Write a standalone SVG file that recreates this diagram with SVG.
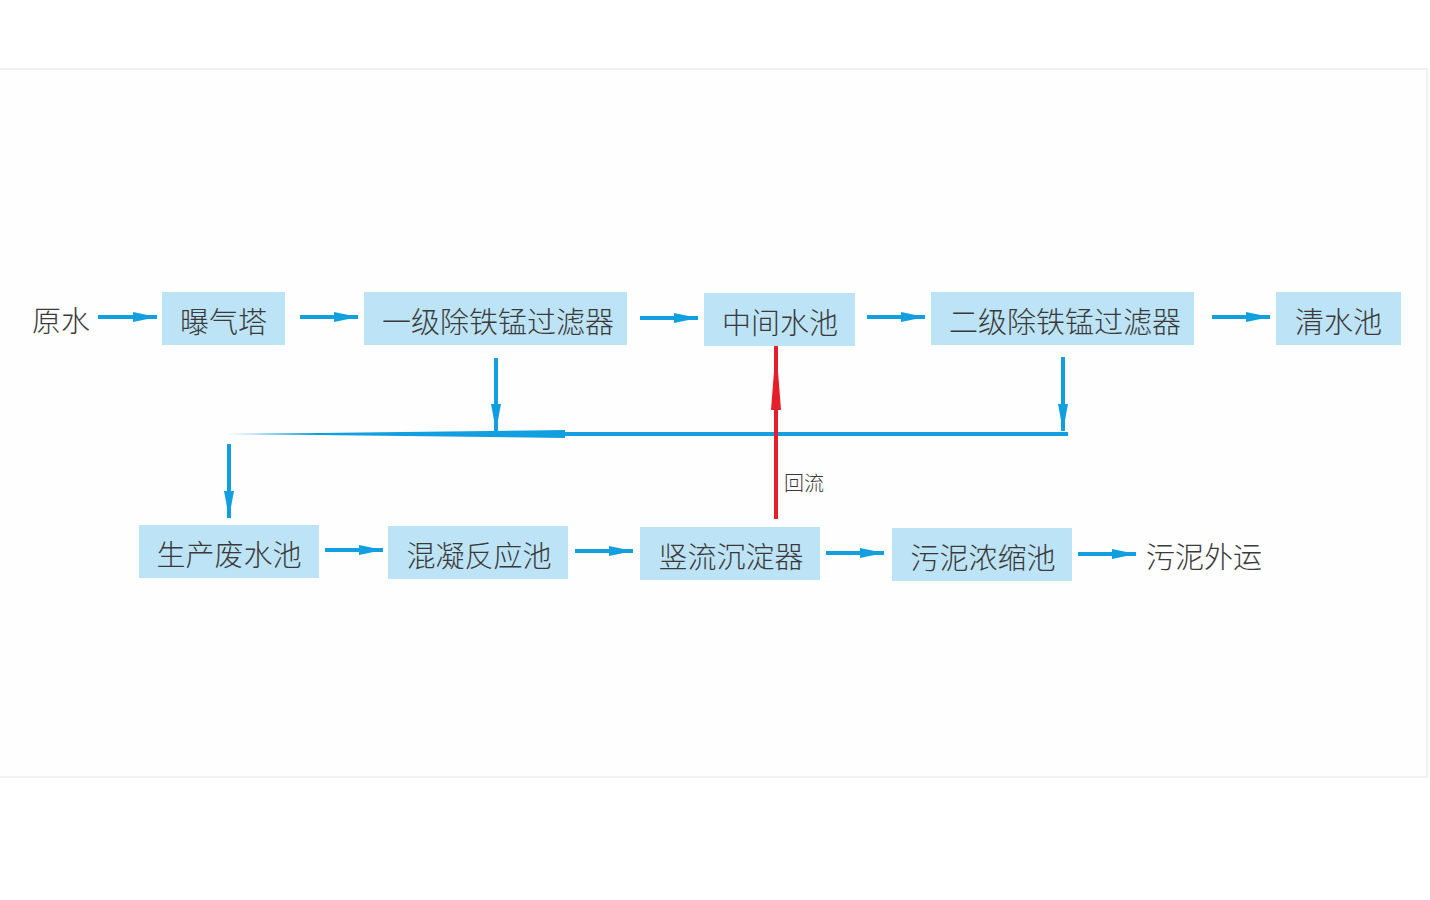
<svg xmlns="http://www.w3.org/2000/svg" width="1430" height="900" viewBox="0 0 1430 900">
<style>
.box{fill:#bde3f6}
.t{font-family:"Noto Sans CJK SC","Noto Sans",sans-serif;font-size:29px;font-weight:300;fill:#3a3a3a;text-anchor:middle;dominant-baseline:central}
.s{font-family:"Noto Sans CJK SC","Noto Sans",sans-serif;font-size:20px;font-weight:300;fill:#3a3a3a}
.ln{stroke:#129fe0;stroke-width:4;fill:none}
.red{stroke:#e41e2b;stroke-width:4;fill:none}
</style>
<defs>
<marker id="ah" markerUnits="userSpaceOnUse" markerWidth="26" markerHeight="12" refX="24" refY="6" orient="auto">
<polygon points="0,1 24,6 0,11" fill="#129fe0"/>
</marker>
<marker id="av" markerUnits="userSpaceOnUse" markerWidth="28" markerHeight="12" refX="27" refY="6" orient="auto">
<polygon points="0,1 27,6 0,11" fill="#129fe0"/>
</marker>
<marker id="ar" markerUnits="userSpaceOnUse" markerWidth="66" markerHeight="12" refX="64" refY="6" orient="auto">
<polygon points="0,1 64,6 0,11" fill="#e41e2b"/>
</marker>
</defs>
<rect x="0" y="0" width="1430" height="900" fill="#fff"/>
<rect x="-2" y="69" width="1429" height="708" fill="#fefefe" stroke="#ececec" stroke-width="1.5"/>

<g id="n-yuanshui"><text class="t" x="61" y="319">原水</text></g>
<g id="n-puqita"><rect class="box" x="162" y="292" width="123" height="53"/><text class="t" x="223.5" y="320">曝气塔</text></g>
<g id="n-yiji"><rect class="box" x="364" y="292" width="263" height="53"/><text class="t" x="498" y="320">一级除铁锰过滤器</text></g>
<g id="n-zhongjian"><rect class="box" x="704" y="293" width="151" height="53"/><text class="t" x="780" y="321">中间水池</text></g>
<g id="n-erji"><rect class="box" x="931" y="292" width="263" height="53"/><text class="t" x="1065" y="320">二级除铁锰过滤器</text></g>
<g id="n-qingshui"><rect class="box" x="1276" y="292" width="125" height="53"/><text class="t" x="1338.5" y="320">清水池</text></g>
<g id="n-shengchan"><rect class="box" x="139" y="525" width="180" height="53"/><text class="t" x="229" y="553">生产废水池</text></g>
<g id="n-hunning"><rect class="box" x="388" y="526" width="180" height="53"/><text class="t" x="479" y="554">混凝反应池</text></g>
<g id="n-shuliu"><rect class="box" x="640" y="527" width="180" height="53"/><text class="t" x="731" y="555">竖流沉淀器</text></g>
<g id="n-wuni"><rect class="box" x="892" y="528" width="180" height="53"/><text class="t" x="983" y="556">污泥浓缩池</text></g>
<g id="n-waiyun"><text class="t" x="1204" y="555">污泥外运</text></g>

<g id="connectors">
<line class="ln" x1="98" y1="317" x2="157" y2="317" marker-end="url(#ah)"/>
<line class="ln" x1="300" y1="317" x2="358" y2="317" marker-end="url(#ah)"/>
<line class="ln" x1="640" y1="318" x2="698" y2="318" marker-end="url(#ah)"/>
<line class="ln" x1="867" y1="317" x2="925" y2="317" marker-end="url(#ah)"/>
<line class="ln" x1="1212" y1="317" x2="1270" y2="317" marker-end="url(#ah)"/>
<line class="ln" x1="496" y1="358" x2="496" y2="431" marker-end="url(#av)"/>
<line class="ln" x1="1063" y1="357" x2="1063" y2="431" marker-end="url(#av)"/>
<polygon points="226,434 565,430 565,438" fill="#129fe0"/>
<line class="ln" x1="565" y1="434" x2="1068" y2="434"/>
<line class="ln" x1="229" y1="444" x2="229" y2="518" marker-end="url(#av)"/>
<line class="ln" x1="325" y1="550" x2="383" y2="550" marker-end="url(#ah)"/>
<line class="ln" x1="575" y1="551" x2="633" y2="551" marker-end="url(#ah)"/>
<line class="ln" x1="826" y1="553" x2="884" y2="553" marker-end="url(#ah)"/>
<line class="ln" x1="1078" y1="554" x2="1136" y2="554" marker-end="url(#ah)"/>
<line class="red" x1="776" y1="519" x2="776" y2="346" marker-end="url(#ar)"/>
<text class="s" x="784" y="491">回流</text>
</g>
</svg>
